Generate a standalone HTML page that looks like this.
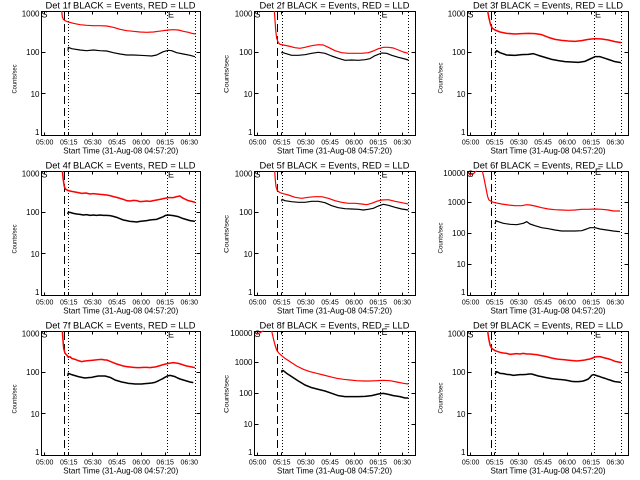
<!DOCTYPE html>
<html><head><meta charset="utf-8">
<style>
html,body{margin:0;padding:0;background:#fff;}
svg{display:block;}
.ax{fill:none;stroke:#000;stroke-width:1;shape-rendering:crispEdges}
.da{stroke:#000;stroke-width:1;stroke-dasharray:8 4;shape-rendering:crispEdges}
.do{stroke:#000;stroke-width:1;stroke-dasharray:1 2;shape-rendering:crispEdges}
text{font-family:"Liberation Sans",sans-serif;fill:#000}
.ti{font-size:9.3px;text-anchor:middle}
.xt{font-size:8.5px;text-anchor:middle}
.yt{font-size:6.5px;text-anchor:middle}
.xl{font-size:7px;text-anchor:middle}
.yl{font-size:8px;text-anchor:end}
.m{font-size:9px}
.r{fill:none;stroke:#f00;stroke-width:3.6;stroke-linejoin:round}
.b{fill:none;stroke:#000;stroke-width:3.6;stroke-linejoin:round}
.rn{fill:none;stroke:#f00;stroke-width:4.6;stroke-linejoin:round}
.bn{fill:none;stroke:#000;stroke-width:4.6;stroke-linejoin:round}
</style></head>
<body>
<svg width="640" height="480" viewBox="0 0 640 480" xmlns="http://www.w3.org/2000/svg">
<rect width="640" height="480" fill="#fff"/>

<!-- ================= ROW 0 ================= -->
<g>
<!-- Panel 1 -->
<rect class="ax" x="41.5" y="11.5" width="159" height="124"/>
<path class="ax" d="M41.5,93.5h4M41.5,52.5h4M200.5,93.5h-4M200.5,52.5h-4M44.5,135.5v-3M68.5,135.5v-3M92.5,135.5v-3M117.5,135.5v-3M141.5,135.5v-3M165.5,135.5v-3M189.5,135.5v-3M44.5,11.5v3M68.5,11.5v3M92.5,11.5v3M117.5,11.5v3M141.5,11.5v3M165.5,11.5v3M189.5,11.5v3"/>
<line class="da" x1="64.5" y1="12" x2="64.5" y2="135"/>
<line class="do" x1="68.5" y1="12" x2="68.5" y2="135"/>
<line class="do" x1="167.5" y1="12" x2="167.5" y2="135"/>
<line class="do" x1="195.5" y1="12" x2="195.5" y2="135"/>
<text class="ti" x="120.5" y="8.5" textLength="150" lengthAdjust="spacingAndGlyphs">Det 1f BLACK = Events, RED = LLD</text>
<text class="yl" x="39.5" y="16.3">1000</text><text class="yl" x="39.5" y="55">100</text><text class="yl" x="39.5" y="97">10</text><text class="yl" x="39.5" y="135.2">1</text>
<text class="xl" x="44.7" y="144.7">05:00</text><text class="xl" x="68.8" y="144.7">05:15</text><text class="xl" x="92.9" y="144.7">05:30</text><text class="xl" x="117" y="144.7">05:45</text><text class="xl" x="141.1" y="144.7">06:00</text><text class="xl" x="165.2" y="144.7">06:15</text><text class="xl" x="189.3" y="144.7">06:30</text>
<text class="xt" x="120.8" y="153.3" textLength="115" lengthAdjust="spacingAndGlyphs">Start Time (31-Aug-08 04:57:20)</text>
<text class="yt" transform="translate(16.5,79) rotate(-90)" textLength="29" lengthAdjust="spacingAndGlyphs">Counts/sec</text>
<text class="m" x="41.5" y="17.5">S</text><text class="m" x="168" y="17.5">E</text>
<g transform="translate(0,0) scale(0.333333)">
<polyline class="r" points="185,33 187,50 190,58 195,62 205,66 220,70 240,74 260,76 280,77 300,77 320,78 340,82 360,88 380,92 400,94 420,96 440,97 460,96 475,94 490,92 505,90 520,89 535,90 550,94 565,97 575,100 587,102"/>
<polyline class="b" points="204,152 205,142 215,146 240,150 260,152 280,150 300,152 320,153 340,158 360,162 380,165 400,165 420,166 440,167 455,168 470,165 480,160 490,155 505,151 515,152 530,158 550,162 570,166 585,170"/>
</g>

<!-- Panel 2 -->
<rect class="ax" x="254.5" y="11.5" width="161" height="124"/>
<path class="ax" d="M254.5,93.5h4M254.5,52.5h4M415.5,93.5h-4M415.5,52.5h-4M257.5,135.5v-3M281.5,135.5v-3M305.5,135.5v-3M330.5,135.5v-3M354.5,135.5v-3M378.5,135.5v-3M402.5,135.5v-3M257.5,11.5v3M281.5,11.5v3M305.5,11.5v3M330.5,11.5v3M354.5,11.5v3M378.5,11.5v3M402.5,11.5v3"/>
<line class="da" x1="277.5" y1="12" x2="277.5" y2="135"/>
<line class="do" x1="282.5" y1="12" x2="282.5" y2="135"/>
<line class="do" x1="380.5" y1="12" x2="380.5" y2="135"/>
<line class="do" x1="408.5" y1="12" x2="408.5" y2="135"/>
<text class="ti" x="334.5" y="8.5" textLength="150" lengthAdjust="spacingAndGlyphs">Det 2f BLACK = Events, RED = LLD</text>
<text class="yl" x="252.5" y="16.3">1000</text><text class="yl" x="252.5" y="55">100</text><text class="yl" x="252.5" y="97">10</text><text class="yl" x="252.5" y="135.2">1</text>
<text class="xl" x="257.7" y="144.7">05:00</text><text class="xl" x="281.8" y="144.7">05:15</text><text class="xl" x="305.9" y="144.7">05:30</text><text class="xl" x="330" y="144.7">05:45</text><text class="xl" x="354.1" y="144.7">06:00</text><text class="xl" x="378.2" y="144.7">06:15</text><text class="xl" x="402.3" y="144.7">06:30</text>
<text class="xt" x="334.5" y="153.3" textLength="115" lengthAdjust="spacingAndGlyphs">Start Time (31-Aug-08 04:57:20)</text>
<text class="yt" transform="translate(228.3,74) rotate(-90)" textLength="38" lengthAdjust="spacingAndGlyphs">Counts/sec</text>
<text class="m" x="254.5" y="17.5">S</text><text class="m" x="381.5" y="17.5">E</text>
<g transform="translate(215,0) scale(0.333333)">
<polyline class="r" points="178,33 180,60 182,90 185,115 190,128 195,133 205,135 220,138 240,143 255,145 270,142 290,137 310,134 325,135 340,142 360,152 380,158 400,160 420,160 440,160 460,158 475,153 490,146 505,142 520,142 535,144 550,150 565,156 580,160"/>
<polyline class="b" points="200,160 201,157 210,160 230,166 250,166 270,164 290,160 310,157 330,160 350,168 370,175 390,181 410,180 430,181 450,179 465,176 480,167 500,159 515,160 530,166 550,172 570,177 580,180"/>
</g>

<!-- Panel 3 -->
<rect class="ax" x="467.5" y="11.5" width="161" height="124"/>
<path class="ax" d="M467.5,93.5h4M467.5,52.5h4M628.5,93.5h-4M628.5,52.5h-4M470.5,135.5v-3M494.5,135.5v-3M518.5,135.5v-3M543.5,135.5v-3M567.5,135.5v-3M591.5,135.5v-3M615.5,135.5v-3M470.5,11.5v3M494.5,11.5v3M518.5,11.5v3M543.5,11.5v3M567.5,11.5v3M591.5,11.5v3M615.5,11.5v3"/>
<line class="da" x1="491.5" y1="12" x2="491.5" y2="135"/>
<line class="do" x1="495.5" y1="12" x2="495.5" y2="135"/>
<line class="do" x1="594.5" y1="12" x2="594.5" y2="135"/>
<line class="do" x1="621.5" y1="12" x2="621.5" y2="135"/>
<text class="ti" x="548" y="8.5" textLength="150" lengthAdjust="spacingAndGlyphs">Det 3f BLACK = Events, RED = LLD</text>
<text class="yl" x="465.5" y="16.3">1000</text><text class="yl" x="465.5" y="55">100</text><text class="yl" x="465.5" y="97">10</text><text class="yl" x="465.5" y="135.2">1</text>
<text class="xl" x="470.7" y="144.7">05:00</text><text class="xl" x="494.8" y="144.7">05:15</text><text class="xl" x="518.9" y="144.7">05:30</text><text class="xl" x="543" y="144.7">05:45</text><text class="xl" x="567.1" y="144.7">06:00</text><text class="xl" x="591.2" y="144.7">06:15</text><text class="xl" x="615.3" y="144.7">06:30</text>
<text class="xt" x="548" y="153.3" textLength="115" lengthAdjust="spacingAndGlyphs">Start Time (31-Aug-08 04:57:20)</text>
<text class="yt" transform="translate(442.5,78) rotate(-90)" textLength="31" lengthAdjust="spacingAndGlyphs">Counts/sec</text>
<text class="m" x="467.5" y="17.5">S</text><text class="m" x="595" y="17.5">E</text>
<g transform="translate(425,0) scale(0.333333)">
<polyline class="rn" points="188,33 192,55 197,75 202,85 210,90 225,96 245,100 270,102 290,101 310,100 330,101 350,104 370,112 390,118 410,121 430,123 450,124 470,122 490,118 510,116 530,117 550,120 570,125 588,128"/>
<polyline class="bn" points="210,160 215,152 225,158 245,165 270,166 290,164 310,163 325,161 340,166 360,172 380,178 400,182 420,185 440,186 460,187 480,184 495,177 510,170 525,170 540,175 555,180 570,185 588,188"/>
</g>
</g>

<!-- ================= ROW 1 ================= -->
<g transform="translate(0,160)">
<!-- Panel 4 -->
<rect class="ax" x="41.5" y="11.5" width="159" height="124"/>
<path class="ax" d="M41.5,93.5h4M41.5,52.5h4M200.5,93.5h-4M200.5,52.5h-4M44.5,135.5v-3M68.5,135.5v-3M92.5,135.5v-3M117.5,135.5v-3M141.5,135.5v-3M165.5,135.5v-3M189.5,135.5v-3M44.5,11.5v3M68.5,11.5v3M92.5,11.5v3M117.5,11.5v3M141.5,11.5v3M165.5,11.5v3M189.5,11.5v3"/>
<line class="da" x1="64.5" y1="12" x2="64.5" y2="135"/>
<line class="do" x1="68.5" y1="12" x2="68.5" y2="135"/>
<line class="do" x1="167.5" y1="12" x2="167.5" y2="135"/>
<line class="do" x1="195.5" y1="12" x2="195.5" y2="135"/>
<text class="ti" x="120.5" y="8.5" textLength="150" lengthAdjust="spacingAndGlyphs">Det 4f BLACK = Events, RED = LLD</text>
<text class="yl" x="39.5" y="16.3">1000</text><text class="yl" x="39.5" y="55">100</text><text class="yl" x="39.5" y="97">10</text><text class="yl" x="39.5" y="135.2">1</text>
<text class="xl" x="44.7" y="144.7">05:00</text><text class="xl" x="68.8" y="144.7">05:15</text><text class="xl" x="92.9" y="144.7">05:30</text><text class="xl" x="117" y="144.7">05:45</text><text class="xl" x="141.1" y="144.7">06:00</text><text class="xl" x="165.2" y="144.7">06:15</text><text class="xl" x="189.3" y="144.7">06:30</text>
<text class="xt" x="120.8" y="153.3" textLength="115" lengthAdjust="spacingAndGlyphs">Start Time (31-Aug-08 04:57:20)</text>
<text class="yt" transform="translate(16.5,79) rotate(-90)" textLength="29" lengthAdjust="spacingAndGlyphs">Counts/sec</text>
<text class="m" x="41.5" y="17.5">S</text><text class="m" x="168" y="17.5">E</text>
<g transform="translate(0,0) scale(0.333333)">
<polyline class="rn" points="187,33 190,60 193,80 197,88 205,92 215,94 225,96 235,98 245,100 258,99 270,102 280,101 290,102 300,103 310,104 320,105 330,107 340,110 350,112 360,115 370,118 380,122 390,123 400,121 410,122 420,125 430,124 440,123 450,124 460,122 470,120 480,118 490,116 505,113 520,113 530,110 540,108 545,112 550,115 565,122 575,124 585,127"/>
<polyline class="bn" points="203,162 205,157 210,157 220,160 230,162 240,163 250,165 260,164 270,166 280,165 290,166 300,165 310,166 320,166 330,167 340,169 350,172 360,176 370,180 380,182 390,184 400,185 410,186 420,184 430,183 440,182 450,180 460,179 470,178 480,174 490,170 497,166 505,165 520,167 535,170 550,176 560,179 570,182 585,184"/>
</g>

<!-- Panel 5 -->
<rect class="ax" x="254.5" y="11.5" width="161" height="124"/>
<path class="ax" d="M254.5,93.5h4M254.5,52.5h4M415.5,93.5h-4M415.5,52.5h-4M257.5,135.5v-3M281.5,135.5v-3M305.5,135.5v-3M330.5,135.5v-3M354.5,135.5v-3M378.5,135.5v-3M402.5,135.5v-3M257.5,11.5v3M281.5,11.5v3M305.5,11.5v3M330.5,11.5v3M354.5,11.5v3M378.5,11.5v3M402.5,11.5v3"/>
<line class="da" x1="277.5" y1="12" x2="277.5" y2="135"/>
<line class="do" x1="282.5" y1="12" x2="282.5" y2="135"/>
<line class="do" x1="380.5" y1="12" x2="380.5" y2="135"/>
<line class="do" x1="408.5" y1="12" x2="408.5" y2="135"/>
<text class="ti" x="334.5" y="8.5" textLength="150" lengthAdjust="spacingAndGlyphs">Det 5f BLACK = Events, RED = LLD</text>
<text class="yl" x="252.5" y="16.3">1000</text><text class="yl" x="252.5" y="55">100</text><text class="yl" x="252.5" y="97">10</text><text class="yl" x="252.5" y="135.2">1</text>
<text class="xl" x="257.7" y="144.7">05:00</text><text class="xl" x="281.8" y="144.7">05:15</text><text class="xl" x="305.9" y="144.7">05:30</text><text class="xl" x="330" y="144.7">05:45</text><text class="xl" x="354.1" y="144.7">06:00</text><text class="xl" x="378.2" y="144.7">06:15</text><text class="xl" x="402.3" y="144.7">06:30</text>
<text class="xt" x="334.5" y="153.3" textLength="115" lengthAdjust="spacingAndGlyphs">Start Time (31-Aug-08 04:57:20)</text>
<text class="yt" transform="translate(228.3,74) rotate(-90)" textLength="38" lengthAdjust="spacingAndGlyphs">Counts/sec</text>
<text class="m" x="254.5" y="17.5">S</text><text class="m" x="381.5" y="17.5">E</text>
<g transform="translate(215,0) scale(0.333333)">
<polyline class="r" points="179,33 181,60 183,80 187,92 195,98 205,101 220,105 240,112 260,115 280,112 300,110 320,110 340,115 360,122 380,127 400,130 420,130 440,132 455,134 470,130 485,124 500,120 520,119 540,124 555,127 570,130 580,132"/>
<polyline class="b" points="200,124 201,118 210,122 230,125 250,127 270,127 290,124 310,124 330,128 350,137 370,143 390,146 410,147 430,148 445,150 460,148 475,145 490,138 505,133 520,136 540,142 560,147 580,150"/>
</g>

<!-- Panel 6 (1-10000) -->
<rect class="ax" x="467.5" y="11.5" width="161" height="124"/>
<path class="ax" d="M467.5,104.5h4M467.5,73.5h4M467.5,42.5h4M628.5,104.5h-4M628.5,73.5h-4M628.5,42.5h-4M470.5,135.5v-3M494.5,135.5v-3M518.5,135.5v-3M543.5,135.5v-3M567.5,135.5v-3M591.5,135.5v-3M615.5,135.5v-3M470.5,11.5v3M494.5,11.5v3M518.5,11.5v3M543.5,11.5v3M567.5,11.5v3M591.5,11.5v3M615.5,11.5v3"/>
<line class="da" x1="491.5" y1="12" x2="491.5" y2="135"/>
<line class="do" x1="495.5" y1="12" x2="495.5" y2="135"/>
<line class="do" x1="594.5" y1="12" x2="594.5" y2="135"/>
<line class="do" x1="621.5" y1="12" x2="621.5" y2="135"/>
<text class="ti" x="548" y="8.5" textLength="150" lengthAdjust="spacingAndGlyphs">Det 6f BLACK = Events, RED = LLD</text>
<text class="yl" x="465.5" y="16.2">10000</text><text class="yl" x="465.5" y="45.2">1000</text><text class="yl" x="465.5" y="75.8">100</text><text class="yl" x="465.5" y="106.8">10</text><text class="yl" x="465.5" y="135.2">1</text>
<text class="xl" x="470.7" y="144.7">05:00</text><text class="xl" x="494.8" y="144.7">05:15</text><text class="xl" x="518.9" y="144.7">05:30</text><text class="xl" x="543" y="144.7">05:45</text><text class="xl" x="567.1" y="144.7">06:00</text><text class="xl" x="591.2" y="144.7">06:15</text><text class="xl" x="615.3" y="144.7">06:30</text>
<text class="xt" x="548" y="153.3" textLength="115" lengthAdjust="spacingAndGlyphs">Start Time (31-Aug-08 04:57:20)</text>
<text class="yt" transform="translate(442.5,78) rotate(-90)" textLength="31" lengthAdjust="spacingAndGlyphs">Counts/sec</text>
<text class="m" x="467.5" y="17">S</text><text class="m" x="595" y="15">E</text>
<g transform="translate(425,0) scale(0.333333)">
<polyline class="r" points="128,38 133,42 136,46 140,40 145,42 150,36 155,33"/>
<polyline class="r" points="172,33 176,50 180,70 184,90 188,110 192,120 200,125 210,128 230,132 250,135 270,137 290,137 305,134 315,135 330,138 350,143 370,147 390,149 410,150 430,151 450,150 470,148 490,148 510,147 530,148 550,150 565,153 585,153"/>
<polyline class="b" points="210,192 213,182 220,185 235,190 255,193 275,194 295,190 305,185 315,192 330,197 350,203 370,206 390,210 410,213 430,213 450,213 470,212 485,207 495,203 510,203 525,207 545,210 565,213 585,215"/>
</g>
</g>

<!-- ================= ROW 2 ================= -->
<g transform="translate(0,320)">
<!-- Panel 7 -->
<rect class="ax" x="41.5" y="11.5" width="159" height="124"/>
<path class="ax" d="M41.5,93.5h4M41.5,52.5h4M200.5,93.5h-4M200.5,52.5h-4M44.5,135.5v-3M68.5,135.5v-3M92.5,135.5v-3M117.5,135.5v-3M141.5,135.5v-3M165.5,135.5v-3M189.5,135.5v-3M44.5,11.5v3M68.5,11.5v3M92.5,11.5v3M117.5,11.5v3M141.5,11.5v3M165.5,11.5v3M189.5,11.5v3"/>
<line class="da" x1="64.5" y1="12" x2="64.5" y2="135"/>
<line class="do" x1="68.5" y1="12" x2="68.5" y2="135"/>
<line class="do" x1="167.5" y1="12" x2="167.5" y2="135"/>
<line class="do" x1="195.5" y1="12" x2="195.5" y2="135"/>
<text class="ti" x="120.5" y="8.5" textLength="150" lengthAdjust="spacingAndGlyphs">Det 7f BLACK = Events, RED = LLD</text>
<text class="yl" x="39.5" y="16.3">1000</text><text class="yl" x="39.5" y="55">100</text><text class="yl" x="39.5" y="97">10</text><text class="yl" x="39.5" y="135.2">1</text>
<text class="xl" x="44.7" y="144.7">05:00</text><text class="xl" x="68.8" y="144.7">05:15</text><text class="xl" x="92.9" y="144.7">05:30</text><text class="xl" x="117" y="144.7">05:45</text><text class="xl" x="141.1" y="144.7">06:00</text><text class="xl" x="165.2" y="144.7">06:15</text><text class="xl" x="189.3" y="144.7">06:30</text>
<text class="xt" x="120.8" y="153.3" textLength="115" lengthAdjust="spacingAndGlyphs">Start Time (31-Aug-08 04:57:20)</text>
<text class="yt" transform="translate(16.5,79) rotate(-90)" textLength="29" lengthAdjust="spacingAndGlyphs">Counts/sec</text>
<text class="m" x="41.5" y="17.5">S</text><text class="m" x="168" y="17.5">E</text>
<g transform="translate(0,0) scale(0.333333)">
<polyline class="rn" points="187,33 189,60 191,85 195,100 200,105 205,112 210,110 215,115 225,118 235,122 245,125 255,123 265,122 275,121 285,120 295,119 305,118 315,120 320,120 330,124 340,128 350,132 360,135 370,138 380,140 390,141 400,142 410,143 420,143 430,142 440,142 450,143 455,142 465,141 470,140 480,137 490,134 505,130 520,128 535,130 545,133 550,135 560,138 570,140 585,143"/>
<polyline class="bn" points="203,168 205,160 215,164 225,167 235,170 245,172 255,174 265,173 275,172 285,170 295,168 305,168 315,168 322,170 330,172 338,176 345,180 355,183 365,186 375,188 385,190 395,191 405,192 415,192 425,192 435,191 445,190 455,189 465,187 472,184 480,180 488,176 495,172 502,168 510,166 518,168 525,170 533,174 540,177 550,180 560,183 570,186 580,188"/>
</g>

<!-- Panel 8 (1-10000) -->
<rect class="ax" x="254.5" y="11.5" width="161" height="124"/>
<path class="ax" d="M254.5,104.5h4M254.5,73.5h4M254.5,42.5h4M415.5,104.5h-4M415.5,73.5h-4M415.5,42.5h-4M257.5,135.5v-3M281.5,135.5v-3M305.5,135.5v-3M330.5,135.5v-3M354.5,135.5v-3M378.5,135.5v-3M402.5,135.5v-3M257.5,11.5v3M281.5,11.5v3M305.5,11.5v3M330.5,11.5v3M354.5,11.5v3M378.5,11.5v3M402.5,11.5v3"/>
<line class="da" x1="277.5" y1="12" x2="277.5" y2="135"/>
<line class="do" x1="282.5" y1="12" x2="282.5" y2="135"/>
<line class="do" x1="380.5" y1="12" x2="380.5" y2="135"/>
<line class="do" x1="408.5" y1="12" x2="408.5" y2="135"/>
<text class="ti" x="334.5" y="8.5" textLength="150" lengthAdjust="spacingAndGlyphs">Det 8f BLACK = Events, RED = LLD</text>
<text class="yl" x="252.5" y="16.2">10000</text><text class="yl" x="252.5" y="45.2">1000</text><text class="yl" x="252.5" y="75.8">100</text><text class="yl" x="252.5" y="106.8">10</text><text class="yl" x="252.5" y="135.2">1</text>
<text class="xl" x="257.7" y="144.7">05:00</text><text class="xl" x="281.8" y="144.7">05:15</text><text class="xl" x="305.9" y="144.7">05:30</text><text class="xl" x="330" y="144.7">05:45</text><text class="xl" x="354.1" y="144.7">06:00</text><text class="xl" x="378.2" y="144.7">06:15</text><text class="xl" x="402.3" y="144.7">06:30</text>
<text class="xt" x="334.5" y="153.3" textLength="115" lengthAdjust="spacingAndGlyphs">Start Time (31-Aug-08 04:57:20)</text>
<text class="yt" transform="translate(228.3,74) rotate(-90)" textLength="38" lengthAdjust="spacingAndGlyphs">Counts/sec</text>
<text class="m" x="254.5" y="17">S</text><text class="m" x="381.5" y="15">E</text>
<g transform="translate(215,0) scale(0.333333)">
<polyline class="r" points="120,38 125,42 130,40 136,38 140,35 145,33"/>
<polyline class="r" points="170,33 175,55 180,75 185,90 192,100 200,107 210,115 225,125 245,138 265,148 285,155 305,160 325,165 345,170 365,175 385,178 405,180 425,182 445,183 465,183 485,182 505,181 525,182 545,186 565,190 580,192"/>
<polyline class="bn" points="200,158 201,152 205,152 215,160 230,170 250,183 270,195 290,203 310,208 330,213 350,220 370,227 390,230 410,230 430,230 450,229 470,227 490,222 505,220 520,223 535,227 555,230 570,234 580,234"/>
</g>

<!-- Panel 9 -->
<rect class="ax" x="467.5" y="11.5" width="161" height="124"/>
<path class="ax" d="M467.5,93.5h4M467.5,52.5h4M628.5,93.5h-4M628.5,52.5h-4M470.5,135.5v-3M494.5,135.5v-3M518.5,135.5v-3M543.5,135.5v-3M567.5,135.5v-3M591.5,135.5v-3M615.5,135.5v-3M470.5,11.5v3M494.5,11.5v3M518.5,11.5v3M543.5,11.5v3M567.5,11.5v3M591.5,11.5v3M615.5,11.5v3"/>
<line class="da" x1="491.5" y1="12" x2="491.5" y2="135"/>
<line class="do" x1="495.5" y1="12" x2="495.5" y2="135"/>
<line class="do" x1="594.5" y1="12" x2="594.5" y2="135"/>
<line class="do" x1="621.5" y1="12" x2="621.5" y2="135"/>
<text class="ti" x="548" y="8.5" textLength="150" lengthAdjust="spacingAndGlyphs">Det 9f BLACK = Events, RED = LLD</text>
<text class="yl" x="465.5" y="16.3">1000</text><text class="yl" x="465.5" y="55">100</text><text class="yl" x="465.5" y="97">10</text><text class="yl" x="465.5" y="135.2">1</text>
<text class="xl" x="470.7" y="144.7">05:00</text><text class="xl" x="494.8" y="144.7">05:15</text><text class="xl" x="518.9" y="144.7">05:30</text><text class="xl" x="543" y="144.7">05:45</text><text class="xl" x="567.1" y="144.7">06:00</text><text class="xl" x="591.2" y="144.7">06:15</text><text class="xl" x="615.3" y="144.7">06:30</text>
<text class="xt" x="548" y="153.3" textLength="115" lengthAdjust="spacingAndGlyphs">Start Time (31-Aug-08 04:57:20)</text>
<text class="yt" transform="translate(442.5,78) rotate(-90)" textLength="31" lengthAdjust="spacingAndGlyphs">Counts/sec</text>
<text class="m" x="467.5" y="17.5">S</text><text class="m" x="595" y="17.5">E</text>
<g transform="translate(425,0) scale(0.333333)">
<polyline class="rn" points="188,33 191,55 195,75 200,85 210,92 225,97 235,99 245,100 255,103 265,102 275,101 285,102 295,100 305,102 315,102 325,103 335,104 345,106 355,108 365,110 375,113 385,115 395,117 405,118 415,119 425,120 435,121 445,122 455,123 465,122 472,121 480,120 488,118 495,117 503,114 510,111 518,110 525,110 533,112 540,114 548,116 555,118 563,121 570,124 580,126 588,128"/>
<polyline class="bn" points="210,162 215,155 225,160 235,161 245,163 255,164 265,166 275,165 285,164 295,164 305,163 312,162 320,162 330,165 340,168 350,170 360,172 370,174 380,176 390,177 400,178 410,179 420,180 430,182 440,184 450,185 460,185 468,184 475,183 483,180 490,177 495,172 500,166 505,164 510,165 518,168 525,170 533,173 540,175 548,178 555,180 563,183 570,185 580,186 588,187"/>
</g>
</g>
</svg>
</body></html>
